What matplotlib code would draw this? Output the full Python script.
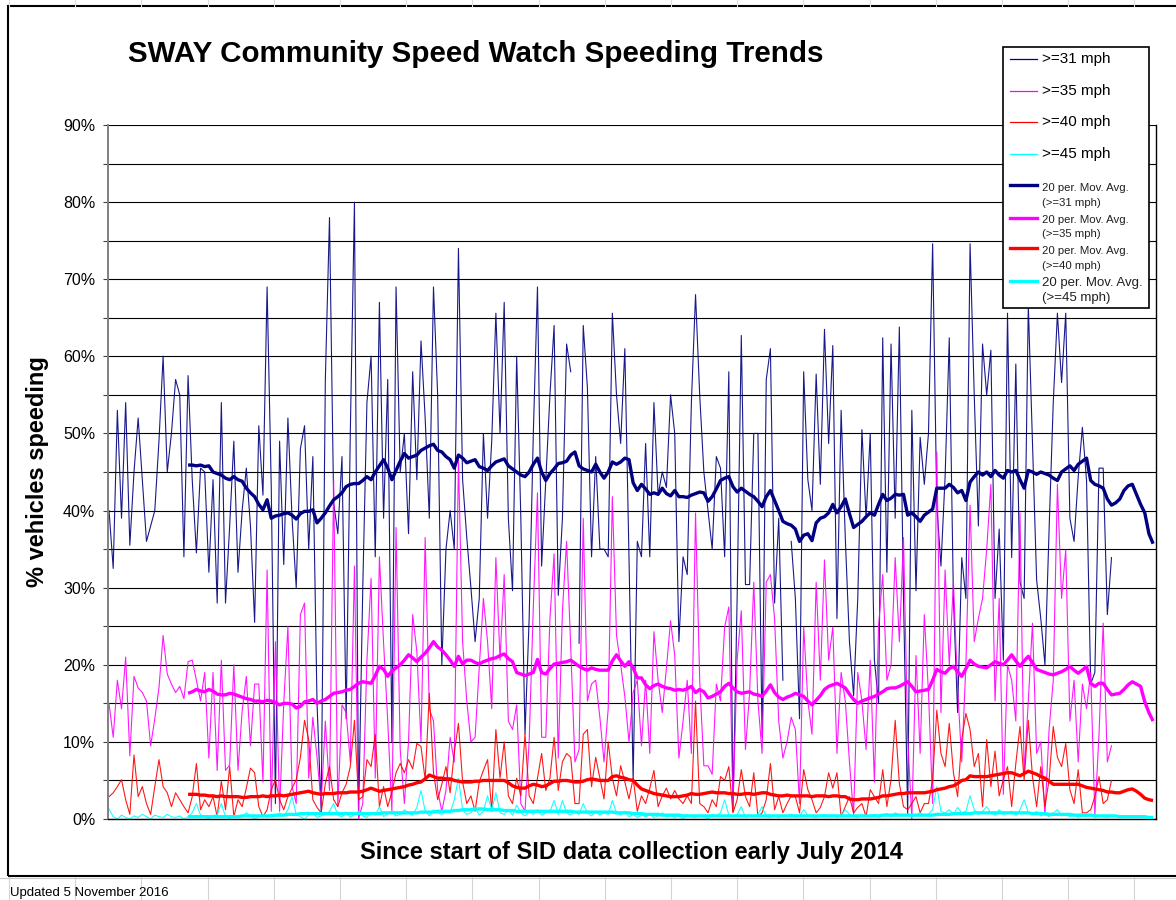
import numpy as np
import matplotlib
matplotlib.use("Agg")
import matplotlib.pyplot as plt
from matplotlib.lines import Line2D
from matplotlib.patches import Rectangle

plt.rcParams['font.family'] = ['Liberation Sans', 'DejaVu Sans']

nan = float('nan')

# % of vehicles at or over each speed, one value per SID period
over31 = [
    40, 32.5, 53, 39, 54, 35.5, 45, 52, 44, 36,
    38, 40, 49, 60, 45, 50, 57, 55, 34, 57.5,
    44, 34.5, 45.5, 45, 32, 44, 28, 54, 28, 38,
    49, 32, 40, 45.5, 38, 25.5, 51, 42, 69, 43,
    2, 49, 33, 52, 39, 30, 48, 51, 35, 47,
    15, 1, 57, 78, 41, 37, 47, 13, 50, 80,
    0.5, 30, 54, 60, 34, 67, 39, 57, 10, 69,
    45, 50, 37, 58, 44, 62, 52, 39, 69, 55,
    20, 35, 40, 35, 74, 44, 36.5, 30, 23, 28.6,
    50, 39, 49, 65.6, 50, 67, 39, 29.6, 60, 39,
    11, 26, 50, 69, 32.8, 44, 55, 64, 29, 39,
    61.6, 58, nan, 22.8, 64, 56, 34, 47, 35, 35,
    34, 65.6, 55, 48.7, 61, 34, 5, 36, 34, 48.7,
    34, 54, 42, 45, 43, 55, 50, 23, 34, 31.7,
    54, 68, 55, 45, 40, 35, 47, 45.5, 34, 58,
    1, 28.6, 62.7, 30.4, 30.4, 50, 50, 10.6, 57, 61,
    28, 39, 18, nan, 36, 28.6, 13, 58, 44, 40,
    57.7, 43.4, 63.5, 48.7, 61.4, 26, 53, 36.5, 23, 16,
    28.6, 50.5, 39, 50, 20.6, 15, 62.4, 32, 61.6, 39,
    63.8, 28.6, 0.5, 53, 29.6, 49.5, 43.4, 50, 74.6, 40.7,
    32.8, 44.4, 62.4, 28.6, 13.8, 33.9, 28.6, 74.6, 55, 38,
    61.6, 55, 60.8, 28.6, 37.6, 20.6, 65.6, 33.9, 59, 30.7,
    28.6, 66.7, 48.7, 31, 26, 20, 37.6, 54, 65.6, 56.6,
    65.6, 39, 36, 44.4, 50.8, 43.9, 17.5, 19, 45.5, 45.5,
    26.5, 33.9,
]
over35 = [
    15, 10.6, 18, 14.3, 21, 8.2, 18.5, 17, 16.4, 15.3,
    9.5, 13, 17, 23.8, 18.8, 17.5, 16.4, 17.2, 15.6, 20.4,
    20.6, 18, 15.3, 19, 7.9, 19, 6.3, 20.6, 6.3, 7,
    20, 6.3, 14, 18.5, 9.5, 17.5, 17.5, 4.8, 32.3, 1,
    23, 1, 15, 25, 4.2, 2, 26.5, 28, 5.3, 13.2,
    8, 2, 12.7, 3.7, 44, 1.6, 14.8, 13.8, 7.4, 32.8,
    0, 2, 20.6, 31.2, 5.3, 34, 22.8, 12.7, 1, 37.8,
    9, 2, 10, 26.5, 21.7, 10, 36.5, 14.3, 12.7, 3.7,
    1, 3.7, 10.6, 7.4, 46.6, 23, 15.3, 10, 10.6, 19.6,
    28.6, 23, 14.3, 33.9, 20.6, 31.7, 12.7, 11.6, 14.8, 2,
    1, 10, 27.5, 42.3, 10.6, 10.6, 26, 34.4, 7.9, 27,
    36, 22.2, 7.4, 9, 39, 15.3, 17.5, 18, 13.2, 7.4,
    14.3, 41.8, 23.8, 20, 15.9, 10, 16.4, 18, 9.5, 18,
    8.5, 24.3, 18, 13.8, 19.6, 25.7, 21.2, 7.9, 12.7, 18,
    8.5, 39.7, 18, 6.9, 6.9, 5.8, 17.5, 15.3, 24.9, 27.5,
    1.6, 20.6, 27, 9, 16.4, 30.7, 15.3, 8.5, 30.7, 31.7,
    26, 12.7, 7.9, 10, 13.2, 11.6, 2, 24.9, 15.3, 11,
    30.7, 18, 33.6, 20.6, 24.9, 8.5, 19, 15.3, 7.4, 0.5,
    19, 15.3, 9, 20.6, 4.8, 25, 31.7, 18, 20, 33.9,
    23, 36.5, 10.6, 0, 21.2, 8.5, 26.5, 16.4, 2, 47.6,
    13.8, 32.3, 20, 30.7, 17, 7.4, 20, 40.7, 23, 26,
    28.6, 35, 43.4, 15.3, 28.6, 3.2, 20, 18, 12.7, 39.7,
    5.8, 15.3, 25.4, 8.5, 10, 0.5, 11.6, 18, 43.4, 28.6,
    34.9, 12.7, 18, 7.4, 17.5, 14.3, 19, 0.5, 11, 25.4,
    7.4, 9.5,
]
over40 = [
    2.9, 3.4, 4.2, 5.1, 2.5, 0.6, 8.3, 2.9, 4.2, 2,
    0.6, 4.2, 7.7, 4.2, 3.4, 1.6, 3.4, 2.5, 1.6, 0.8,
    2.9, 7.2, 1.2, 2.5, 1.6, 2.9, 0.3, 4.9, 1.2, 6.8,
    0.3, 2.5, 1.6, 4.0, 6.6, 6, 1.6, 0.3, 1.2, 3.8,
    5.1, 2.5, 1.2, 2.9, 4.0, 5.1, 8, 12.8, 10.3, 2.5,
    1.5, 0.8, 4.6, 6.8, 2.5, 1.6, 3.4, 4.5, 6.8, 12.8,
    2.5, 2.9, 7.7, 6.8, 11, 1.6, 4.2, 1.6, 3.5, 6,
    7.2, 6, 7.7, 6.5, 9.8, 9.4, 5.1, 16.3, 6, 2.5,
    4.5, 6.8, 3.4, 8.6, 12.4, 4.8, 2, 3, 1, 4.8,
    6.3, 7.7, 1, 11.6, 5.3, 10, 3, 2, 5.3, 3,
    11, 3, 2, 5.3, 8.5, 3.7, 5.3, 10.6, 3.7, 7.4,
    8.5, 8, 2, 2, 11, 11.6, 4.2, 8, 5.3, 2.6,
    10, 5.3, 3, 6.9, 4.8, 2.6, 5.3, 1, 3, 2,
    4, 6.3, 1.6, 3, 4, 2.6, 3.7, 2.6, 2, 3,
    2, 15.3, 2, 1.6, 0.8, 2.5, 1.6, 5.5, 5, 6.8,
    0.8, 2.5, 6.4, 2.9, 1.6, 6, 0.3, 0.8, 2.5, 7.2,
    1.2, 2.9, 0.8, 2, 3, 2.9, 0.8, 6.4, 3.8, 2.5,
    0.8, 1.5, 2.9, 6, 4, 6, 0.3, 1.6, 2.9, 0.8,
    1.5, 2, 0.3, 3.8, 2.9, 2, 6.4, 1.6, 5.1, 12.8,
    4.6, 1.6, 1.2, 2, 2.9, 0.8, 2, 2, 5.1, 14.1,
    8.5, 6.8, 12.4, 6, 2.9, 10.3, 13.7, 11.6, 6.8, 8.5,
    1.6, 10.3, 4.2, 8.8, 3, 5.1, 6.8, 1.6, 7.2, 12,
    5, 12.8, 5.5, 1.6, 6.8, 1.6, 5.1, 12, 8, 6.8,
    9.8, 3.8, 2, 6.4, 0.8, 0.8, 1.2, 2.9, 5.5, 2,
    2.5, 5,
]
over45 = [
    1.3, 0.3, 0, 0.5, 0.2, 0, 0.4, 0.2, 0.6, 0.3,
    0, 0.5, 0.3, 0.2, 0.6, 0.3, 0.2, 0.4, 0, 0.3,
    0.8, 2.0, 0.5, 0.3, 0, 0.4, 0.6, 2.0, 0.3, 0,
    0.5, 0.2, 0.3, 0.8, 0.4, 0, 0.3, 0.5, 0.2, 0.6,
    0.3, 0.8, 0.4, 1.2, 2.9, 0.6, 0.3, 0, 0.5, 0.8,
    0.2, 0.4, 0.6, 1.0, 2.0, 0.5, 0.3, 0.8, 0.2, 0.6,
    1.0, 0.4, 0.2, 0.8, 0.5, 1.6, 0.3, 0.7, 1.0, 0.4,
    0.6, 1.2, 0.8, 0.5, 1.5, 3.7, 1.0, 0.4, 1.2, 0.8,
    0.6, 1.0, 0.8, 2.5, 5.3, 1.2, 0.6, 0.8, 1.5, 0.5,
    1.0, 3.0, 1.2, 3.4, 0.8, 0.6, 1.2, 0.5, 1.8, 0.8,
    0.4, 1.0, 0.6, 1.2, 0.5, 0.8, 1.0, 2.4, 0.6, 2.4,
    0.8, 0.5, 1.0, 0.6, 2.0, 0.8, 0.4, 1.0, 0.5, 0.8,
    0.6, 2.4, 0.8, 0.5, 1.0, 0.3, 0.6, 0.2, 0.5, 0.3,
    0.6, 0.2, 0.4, 0.8, 0.3, 0.5, 0.2, 0.4, 0, 0.6,
    0.3, 0.2, 0.5, 0.3, 0, 0.6, 0.4, 0.8, 2.5, 0.5,
    0.3, 0.6, 1.6, 0.2, 0.4, 0.3, 0.6, 1.6, 0.3, 0.2,
    0.4, 0.2, 0.5, 0.3, 0.6, 0.2, 0.4, 1.2, 0.5, 0.3,
    0.2, 0.4, 0.6, 0.3, 0.5, 0.2, 0.4, 1.2, 0.6, 0.3,
    0.2, 0.5, 0.3, 0.4, 0.6, 0.2, 0.5, 0.7, 0.3, 0.8,
    0.5, 0.4, 0.6, 0.3, 0.5, 0.8, 0.4, 0.6, 1.2, 4.2,
    1.0, 0.8, 1.2, 0.6, 1.5, 0.8, 1.0, 3.0, 1.2, 0.6,
    1.0, 1.6, 0.8, 0.5, 1.2, 0.6, 0.8, 1.0, 0.5, 1.2,
    2.5, 0.8, 0.6, 1.0, 0.4, 0.6, 0.3, 0.8, 1.2, 0.4,
    0.6, 0.3, 0.5, 0.2, 0.4, 0.3, 0.6, 0.2, 0.4, 0.3,
    0.2, 0.4,
]

# 20 period moving averages (Excel trendlines), first value at period 19
ma_start = 19
ma31 = [
    45.9, 45.9, 45.8, 45.9, 45.7, 45.8, 45.0, 44.8, 44.6, 44.2,
    44.0, 44.4, 44.0, 43.8, 42.9, 42.3, 41.8, 40.8, 40.1, 41.4,
    39.0, 39.3, 39.4, 39.6, 39.7, 39.4, 38.9, 39.6, 39.9, 39.9,
    40.1, 38.4, 39.0, 39.7, 40.6, 41.4, 41.8, 42.3, 43.1, 43.4,
    43.5, 43.5, 43.9, 44.4, 44.0, 45.0, 45.8, 46.6, 45.5, 44.0,
    45.2, 46.4, 47.4, 46.8, 47.0, 47.2, 47.8, 48.1, 48.4, 48.6,
    47.8, 47.6, 47.0, 46.6, 45.5, 47.2, 46.8, 46.2, 46.4, 46.6,
    45.7, 45.5, 45.2, 45.8, 46.3, 46.5, 46.7, 45.8, 45.4, 45.0,
    44.6, 44.4, 45.0, 46.0, 46.8, 45.0, 43.9, 44.8, 45.4, 46.1,
    46.2, 46.4, 47.2, 47.6, 45.8, 45.4, 45.2, 45.0, 46.0, 45.0,
    44.2, 45.0, 46.3, 46.0, 46.3, 46.8, 46.6, 43.6, 42.6, 43.4,
    42.8, 42.1, 42.3, 42.1, 42.9, 42.2, 41.9, 42.6, 41.8, 41.8,
    41.7, 42.0, 42.2, 42.4, 42.3, 41.2, 41.8, 42.8, 43.9, 44.2,
    44.4, 43.1, 42.4, 42.9, 42.5, 42.1, 41.8, 41.2, 40.5, 41.8,
    42.6, 41.3, 40.0, 38.6, 38.3, 38.1, 37.6, 36.0, 36.8, 37.0,
    36.1, 38.4, 39.0, 39.2, 39.7, 40.8, 39.7, 40.5, 41.5, 39.6,
    37.8, 38.2, 38.6, 39.2, 39.7, 39.4, 40.8, 42.1, 41.3, 41.6,
    42.1, 42.0, 42.1, 39.4, 39.7, 39.2, 38.6, 39.4, 39.8, 40.2,
    42.9, 42.9, 42.9, 43.4, 43.0, 42.3, 42.6, 41.3, 43.7, 44.4,
    45.0, 44.6, 45.0, 44.4, 45.2, 44.6, 44.2, 45.2, 45.0, 45.2,
    44.0, 42.9, 45.2, 45.0, 44.7, 45.0, 44.8, 44.6, 44.2, 43.9,
    45.0, 45.4, 45.8, 45.2, 46.0, 46.4, 46.8, 43.9, 43.4, 43.2,
    42.9, 41.5, 40.7, 41.0, 41.5, 42.6, 43.2, 43.4, 42.1, 40.8,
    39.7, 37.0, 35.7,
]
ma35 = [
    16.3, 16.5, 16.8, 16.6, 16.5, 16.8, 16.6, 16.2, 16.1, 16.1,
    16.3, 16.2, 16.0, 15.8, 15.6, 15.5, 15.3, 15.3, 15.2, 15.4,
    15.3, 15.1, 14.8, 15.0, 15.0, 14.9, 14.4, 14.6, 15.2, 15.3,
    15.5, 15.0, 15.3, 15.5, 15.9, 16.3, 16.4, 16.5, 16.7, 16.8,
    17.2, 17.6, 17.8, 17.7, 17.6, 18.6, 19.8, 19.4, 18.5, 19.2,
    19.6, 20.0, 20.6, 21.3, 20.9, 20.4, 21.0, 21.5, 22.2, 23.0,
    22.3, 21.9, 21.3, 20.6, 19.8, 21.1, 20.1, 20.6, 20.6, 20.3,
    20.1, 20.4, 20.6, 20.8, 20.9, 21.2, 21.4, 20.8, 20.4, 19.0,
    18.8, 18.6, 18.8, 19.0, 20.7, 19.0, 18.8, 19.5, 20.1, 20.2,
    20.3, 20.4, 20.6, 20.2, 19.8, 19.5, 19.3, 19.6, 19.4, 19.3,
    19.3, 19.3, 20.5, 21.3, 20.5, 19.8, 20.4, 19.6, 18.3, 18.3,
    17.4, 16.9, 17.3, 17.5, 17.2, 17.0, 16.9, 16.7, 16.8, 16.7,
    16.9, 17.2, 16.4, 16.8, 16.5, 15.7, 15.9, 16.2, 16.5, 17.2,
    17.6, 17.0, 16.5, 16.3, 16.4, 16.5, 16.2, 16.1, 15.9, 16.6,
    17.4, 16.4, 15.8, 15.5, 15.8, 16.0, 16.3, 16.1, 15.9, 15.3,
    14.8, 15.4, 16.0, 16.8, 17.2, 17.4, 17.6, 17.3, 17.0, 16.2,
    15.5, 15.0, 15.3, 15.5, 15.7, 15.9, 16.2, 16.5, 16.9, 17.0,
    17.0, 17.2, 17.5, 17.8, 17.2, 16.5, 16.6, 16.7, 16.8, 18.0,
    19.4, 19.1, 18.9, 19.5, 19.8, 19.1, 18.5, 19.5, 20.6, 20.1,
    19.8, 19.7, 19.6, 20.0, 20.4, 20.2, 20.0, 20.6, 21.3, 20.5,
    19.8, 20.5, 21.1, 20.3, 19.4, 19.2, 19.0, 18.8, 18.7, 18.9,
    19.1, 19.4, 19.8, 19.3, 18.9, 19.3, 19.8, 17.6, 17.2, 17.6,
    17.6, 16.8, 16.1, 16.2, 16.3, 16.8, 17.4, 17.8, 17.5, 17.2,
    15.2, 13.8, 12.7,
]
ma40 = [
    3.2, 3.2, 3.2, 3.1, 3.1, 3.0, 3.0, 2.9, 3.0, 2.9,
    2.9, 2.9, 2.9, 2.8, 2.8, 2.9, 2.9, 2.9, 3.0, 2.9,
    3.0, 3.0, 3.1, 3.0, 3.1, 3.2, 3.3, 3.4, 3.5, 3.6,
    3.4, 3.3, 3.2, 3.3, 3.3, 3.3, 3.4, 3.4, 3.4, 3.5,
    3.5, 3.5, 3.6, 3.8, 4.0, 3.8, 3.6, 3.7, 3.8, 3.9,
    4.0, 4.1, 4.2, 4.4, 4.5, 4.7, 4.8, 5.2, 5.7, 5.5,
    5.3, 5.3, 5.2, 5.2, 5.0, 4.9, 4.8, 4.8, 4.8, 4.9,
    4.9, 5.0, 5.0, 5.0, 5.0, 5.0, 5.0, 4.7, 4.3, 4.1,
    4.0, 4.0, 4.3, 4.5, 4.4, 4.2, 4.3, 4.6, 4.9, 4.9,
    5.0, 5.0, 4.9, 4.8, 4.8, 4.9, 5.1, 5.2, 5.1, 5.0,
    5.0, 5.0, 5.5, 5.6, 5.4, 5.3, 5.1, 5.0, 4.4, 3.9,
    3.7, 3.5, 3.3, 3.2, 3.1, 3.0, 2.9, 2.9, 2.9, 3.0,
    3.1, 3.3, 3.2, 3.2, 3.3, 3.4, 3.5, 3.4, 3.4, 3.4,
    3.3, 3.3, 3.2, 3.2, 3.3, 3.3, 3.2, 3.3, 3.4, 3.4,
    3.2, 3.1, 3.0, 3.0, 3.1, 3.0, 3.0, 3.0, 3.0, 3.0,
    2.9, 3.0, 3.0, 3.0, 2.9, 3.0, 3.0, 2.9, 2.9, 2.6,
    2.5, 2.5, 2.6, 2.6, 2.6, 2.7, 2.8, 3.0, 3.0, 3.1,
    3.2, 3.3, 3.3, 3.4, 3.4, 3.4, 3.4, 3.4, 3.5, 3.6,
    3.8, 3.9, 4.0, 4.2, 4.3, 4.6, 5.0, 5.1, 5.6, 5.5,
    5.5, 5.5, 5.5, 5.6, 5.7, 5.8, 5.9, 6.0, 6.0, 5.8,
    5.6, 5.9, 6.2, 6.0, 5.8, 5.5, 5.3, 4.9, 4.5, 4.5,
    4.5, 4.5, 4.5, 4.5, 4.5, 4.3, 4.1, 4.0, 3.9, 3.8,
    3.7, 3.5, 3.5, 3.4, 3.4, 3.6, 3.8, 3.9, 3.6, 3.2,
    2.7, 2.5, 2.4,
]
ma45 = [
    0.3, 0.3, 0.3, 0.3, 0.3, 0.3, 0.3, 0.3, 0.3, 0.3,
    0.3, 0.3, 0.3, 0.4, 0.4, 0.4, 0.4, 0.4, 0.4, 0.4,
    0.4, 0.5, 0.5, 0.5, 0.6, 0.6, 0.6, 0.7, 0.7, 0.7,
    0.7, 0.7, 0.7, 0.7, 0.7, 0.7, 0.7, 0.7, 0.7, 0.7,
    0.7, 0.7, 0.7, 0.7, 0.7, 0.7, 0.7, 0.8, 0.8, 0.8,
    0.8, 0.8, 0.8, 0.8, 0.8, 0.8, 0.9, 0.9, 0.9, 0.9,
    1.0, 1.0, 1.0, 1.0, 1.1, 1.1, 1.2, 1.2, 1.2, 1.3,
    1.3, 1.3, 1.2, 1.2, 1.2, 1.2, 1.1, 1.1, 1.1, 1.0,
    1.0, 1.0, 1.0, 1.0, 1.0, 1.0, 1.0, 1.0, 1.0, 1.0,
    1.0, 1.0, 1.0, 0.9, 0.9, 0.9, 0.9, 0.9, 0.9, 0.9,
    0.9, 0.9, 0.9, 0.8, 0.8, 0.8, 0.8, 0.7, 0.7, 0.7,
    0.6, 0.6, 0.6, 0.6, 0.5, 0.5, 0.5, 0.5, 0.5, 0.4,
    0.4, 0.4, 0.4, 0.4, 0.4, 0.4, 0.4, 0.4, 0.4, 0.4,
    0.4, 0.4, 0.4, 0.4, 0.4, 0.4, 0.4, 0.4, 0.4, 0.4,
    0.4, 0.4, 0.4, 0.4, 0.4, 0.4, 0.4, 0.4, 0.4, 0.4,
    0.4, 0.4, 0.4, 0.4, 0.4, 0.4, 0.4, 0.4, 0.4, 0.4,
    0.4, 0.4, 0.4, 0.4, 0.4, 0.4, 0.4, 0.5, 0.5, 0.5,
    0.5, 0.5, 0.5, 0.5, 0.5, 0.5, 0.5, 0.5, 0.5, 0.5,
    0.6, 0.6, 0.6, 0.6, 0.7, 0.7, 0.7, 0.7, 0.7, 0.8,
    0.8, 0.8, 0.8, 0.8, 0.8, 0.8, 0.8, 0.8, 0.8, 0.8,
    0.8, 0.8, 0.8, 0.7, 0.7, 0.7, 0.7, 0.6, 0.6, 0.6,
    0.6, 0.6, 0.6, 0.5, 0.5, 0.5, 0.5, 0.5, 0.4, 0.4,
    0.4, 0.4, 0.4, 0.4, 0.3, 0.3, 0.3, 0.3, 0.3, 0.3,
    0.3, 0.2, 0.2,
]

raw_labels = ['>=31 mph', '>=35 mph', '>=40 mph', '>=45 mph']
ma_labels = ['(>=31 mph)', '(>=35 mph)', '(>=40 mph)', '(>=45 mph)']
colors = ['#000080', '#ff00ff', '#ff0000', '#00ffff']
n_periods = 252

W, H = 1176, 900
fig = plt.figure(figsize=(W / 100, H / 100), dpi=100)


def fx(x):
    return x / W


def fy(y):
    return 1 - y / H


# spreadsheet cells peeking out around the chart object
for k in range(18):
    xc = fx(9 + 66.2 * k)
    fig.add_artist(Line2D([xc, xc], [fy(0), fy(6)], color='#dedede', lw=0.8))
    fig.add_artist(Line2D([xc, xc], [fy(877), fy(900)], color='#d4d4d4', lw=0.8))
fig.add_artist(Line2D([0, 1], [fy(878), fy(878)], color='#c8c8c8', lw=0.8))

# chart object border
fig.add_artist(Rectangle((fx(8), fy(876)), fx(1190) - fx(8), fy(6) - fy(876),
                         transform=fig.transFigure, fill=False, ec='black', lw=1.5))

ax = fig.add_axes([fx(108), fy(819), fx(1156) - fx(108), fy(125) - fy(819)])

series = [over31, over35, over40, over45]
mas = [ma31, ma35, ma40, ma45]
for s, c in zip(series, colors):
    ax.plot(np.arange(len(s)), s, color=c, lw=0.8, alpha=0.9, zorder=2)
for m, c in zip(mas, colors):
    ax.plot(np.arange(ma_start, ma_start + len(m)), m, color=c, lw=2.4,
            solid_capstyle='butt', zorder=3)

ax.set_xlim(-0.25, n_periods - 0.3)
ax.set_ylim(0, 90)
ax.set_xticks([])
ax.set_yticks(np.arange(0, 91, 10))
ax.set_yticks(np.arange(5, 90, 10), minor=True)
ax.set_yticklabels(['%d%%' % v for v in range(0, 91, 10)], fontsize=11.5)
ax.tick_params(axis='y', which='both', direction='out', length=3.6, width=0.8,
               color='#404040', pad=5.5)
ax.grid(axis='y', which='both', color='black', lw=0.8)
ax.set_axisbelow(True)
ax.spines['top'].set_visible(False)
ax.spines['left'].set_color('#808080')
ax.spines['left'].set_linewidth(1.4)
ax.spines['bottom'].set_color('black')
ax.spines['bottom'].set_linewidth(1.0)
ax.spines['right'].set_color('black')
ax.spines['right'].set_linewidth(1.0)

fig.text(fx(128), fy(62), 'SWAY Community Speed Watch Speeding Trends',
         fontsize=21.3, fontweight='bold', ha='left', va='baseline')
fig.text(fx(631), fy(853), 'Since start of SID data collection early July 2014',
         fontsize=17, fontweight='bold', ha='center', va='center')
fig.text(fx(38), fy(472), '% vehicles speeding', fontsize=17, fontweight='bold',
         rotation=90, ha='center', va='center')
fig.text(fx(10), fy(893), 'Updated 5 November 2016', fontsize=9.5,
         ha='left', va='center')

# legend box, laid out like the Excel one
fig.add_artist(Rectangle((fx(1003), fy(308)), fx(1149) - fx(1003), fy(47) - fy(308),
                         transform=fig.transFigure, fc='white', ec='black',
                         lw=1.2, zorder=10))
raw_rows = [59, 91, 122, 154]
for y, lab, c in zip(raw_rows, raw_labels, colors):
    fig.add_artist(Line2D([fx(1010), fx(1037)], [fy(y), fy(y)], color=c, lw=0.9, zorder=11))
    fig.text(fx(1042), fy(y), lab, fontsize=11, ha='left', va='center', zorder=11)
ma_rows = [(185, 188, 203), (218, 220, 234), (248, 251, 266), (281, 283, 298)]
for i, ((yl, y1, y2), lab, c) in enumerate(zip(ma_rows, ma_labels, colors)):
    fs = 9.5 if i == 3 else 8.2
    fig.add_artist(Line2D([fx(1010), fx(1037)], [fy(yl), fy(yl)], color=c, lw=2.4, zorder=11))
    fig.text(fx(1042), fy(y1), '20 per. Mov. Avg.', fontsize=fs, ha='left', va='center',
             color='#202020', zorder=11)
    fig.text(fx(1042), fy(y2), lab, fontsize=fs, ha='left', va='center',
             color='#202020', zorder=11)

fig.savefig('out.png', dpi=100)
